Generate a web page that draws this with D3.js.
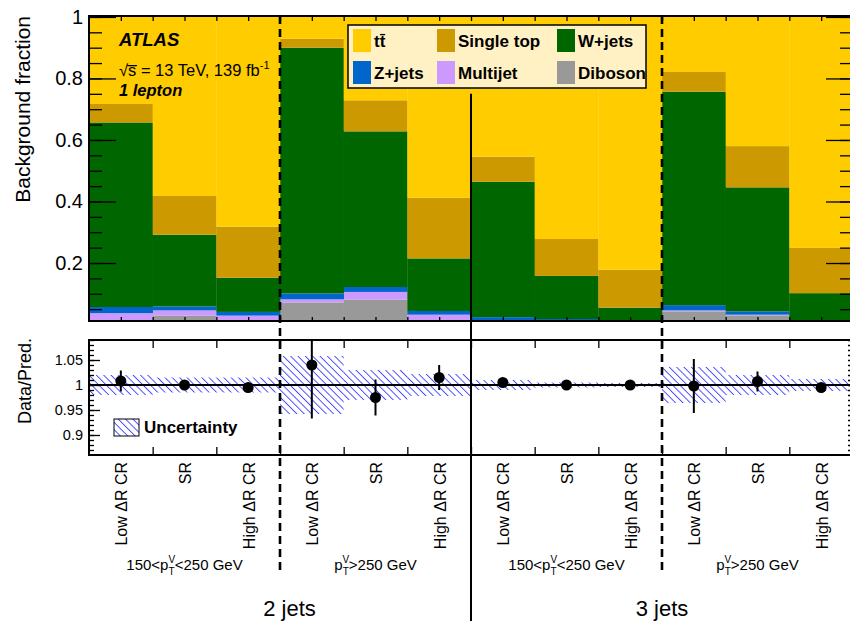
<!DOCTYPE html>
<html lang="en">
<head>
<meta charset="UTF-8">
<title>Background fraction</title>
<script src="https://cdn.jsdelivr.net/npm/d3@7"></script>
<style>
  body { margin: 0; background: #fff; }
  svg { display: block; font-family: "Liberation Sans", Arial, Helvetica, sans-serif; }
</style>
</head>
<body>
<svg width="850" height="621"></svg>
<script>
// category per bin (2 jets: 150-250, >250 ; 3 jets: 150-250, >250)
var categories = ["Low \u0394R CR", "SR", "High \u0394R CR", "Low \u0394R CR", "SR", "High \u0394R CR",
                  "Low \u0394R CR", "SR", "High \u0394R CR", "Low \u0394R CR", "SR", "High \u0394R CR"];
var ptRegions = ["150<p|<250 GeV", "p|>250 GeV", "150<p|<250 GeV", "p|>250 GeV"];
var jetLabels = ["2 jets", "3 jets"];

// background fractions, stacked bottom -> top
var diboson  = [0.008, 0.029, 0.008, 0.072, 0.081, 0.008, 0.006, 0.005, 0.004, 0.043, 0.030, 0.005];
var multijet = [0.029, 0.017, 0.021, 0.010, 0.025, 0.024, 0.004, 0.003, 0.003, 0.003, 0.002, 0.002];
var zjets    = [0.020, 0.013, 0.012, 0.019, 0.016, 0.012, 0.014, 0.010, 0.003, 0.017, 0.011, 0.004];
var wjets    = [0.600, 0.233, 0.111, 0.799, 0.506, 0.171, 0.440, 0.140, 0.045, 0.694, 0.403, 0.091];
var stop     = [0.060, 0.126, 0.166, 0.029, 0.101, 0.197, 0.082, 0.120, 0.123, 0.064, 0.134, 0.147];
var ttbar    = [0.283, 0.582, 0.682, 0.071, 0.271, 0.588, 0.454, 0.722, 0.822, 0.179, 0.420, 0.751];

// data / prediction
var ratio    = [1.008, 1.000, 0.995, 1.040, 0.975, 1.015, 1.005, 1.000, 1.000, 0.998, 1.007, 0.995];
var ratioErr = [0.021, 0.004, 0.004, 0.107, 0.036, 0.025, 0.005, 0.003, 0.003, 0.054, 0.020, 0.005];
var uncert   = [0.020, 0.015, 0.015, 0.058, 0.030, 0.022, 0.010, 0.005, 0.004, 0.036, 0.020, 0.012];

var keys = ["diboson", "multijet", "zjets", "wjets", "stop", "ttbar"];
var colors = { ttbar: "#ffcc00", stop: "#cc9900", wjets: "#006600", zjets: "#0066cc", multijet: "#cc99ff", diboson: "#999999" };
var legendItems = [
  { key: "ttbar", label: "tt\u0304" }, { key: "stop", label: "Single top" }, { key: "wjets", label: "W+jets" },
  { key: "zjets", label: "Z+jets" }, { key: "multijet", label: "Multijet" }, { key: "diboson", label: "Diboson" }
];

var L = 89, R = 853, T1 = 16, B1 = 321, T2 = 340, B2 = 455;

var svg = d3.select("svg");
var x = d3.scaleLinear().domain([0, 12]).range([L, R]);
var y = d3.scaleLinear().domain([0.0115, 1.003]).range([B1, T1]);
var yr = d3.scaleLinear().domain([0.86, 1.09]).range([B2, T2]);

var defs = svg.append("defs");
defs.append("clipPath").attr("id", "clipTop").append("rect")
  .attr("x", L).attr("y", T1).attr("width", R - L).attr("height", B1 - T1);
defs.append("clipPath").attr("id", "clipBot").append("rect")
  .attr("x", L).attr("y", T2).attr("width", R - L).attr("height", B2 - T2);
var hatch = defs.append("pattern").attr("id", "hatch").attr("patternUnits", "userSpaceOnUse")
  .attr("width", 5.2).attr("height", 5.2).attr("patternTransform", "rotate(-45)");
hatch.append("line").attr("x1", 0.5).attr("y1", 0).attr("x2", 0.5).attr("y2", 5.2)
  .attr("stroke", "#3333ff").attr("stroke-width", 0.85);

// ---- stacked fractions
var rows = categories.map(function (c, i) {
  return { i: i, diboson: diboson[i], multijet: multijet[i], zjets: zjets[i], wjets: wjets[i], stop: stop[i], ttbar: ttbar[i] };
});
var series = d3.stack().keys(keys)(rows);

var gBars = svg.append("g").attr("clip-path", "url(#clipTop)");
gBars.selectAll("g").data(series).enter().append("g")
  .attr("fill", d => colors[d.key])
  .selectAll("rect").data(d => d).enter().append("rect")
  .attr("x", d => x(d.data.i))
  .attr("width", d => x(d.data.i + 1) - x(d.data.i) + 0.3)
  .attr("y", d => y(d[1]))
  .attr("height", d => Math.max(0, y(d[0]) - y(d[1])));

// ---- ratio panel
var gRat = svg.append("g").attr("clip-path", "url(#clipBot)");
gRat.selectAll("rect.band").data(uncert).enter().append("rect")
  .attr("class", "band")
  .attr("x", (d, i) => x(i)).attr("width", (d, i) => x(i + 1) - x(i))
  .attr("y", d => yr(1 + d)).attr("height", d => yr(1 - d) - yr(1 + d))
  .attr("fill", "url(#hatch)");
gRat.append("line").attr("x1", L).attr("x2", R).attr("y1", yr(1)).attr("y2", yr(1))
  .attr("stroke", "#000").attr("stroke-width", 2);
gRat.selectAll("line.err").data(ratio).enter().append("line")
  .attr("class", "err")
  .attr("x1", (d, i) => x(i + 0.5)).attr("x2", (d, i) => x(i + 0.5))
  .attr("y1", (d, i) => yr(d + ratioErr[i])).attr("y2", (d, i) => yr(d - ratioErr[i]))
  .attr("stroke", "#000").attr("stroke-width", 2);
gRat.selectAll("circle").data(ratio).enter().append("circle")
  .attr("cx", (d, i) => x(i + 0.5)).attr("cy", d => yr(d)).attr("r", 5.5).attr("fill", "#000");

// ---- axes
function styleAxis(g) {
  g.select(".domain").remove();
  g.selectAll(".tick line").attr("stroke", "#000").attr("stroke-width", 1.3);
  g.selectAll("text").attr("fill", "#000").attr("font-family", "Liberation Sans, Arial, sans-serif");
}
var minorTop = d3.range(1, 21).map(v => v / 20);
var minorBot = d3.range(87, 110).map(v => v / 100);

svg.append("g").attr("transform", "translate(" + L + ",0)")
  .call(d3.axisLeft(y).tickValues(minorTop).tickSizeInner(-13).tickSizeOuter(0).tickFormat(""))
  .call(styleAxis);
svg.append("g").attr("transform", "translate(" + L + ",0)")
  .call(d3.axisLeft(y).tickValues([0.2, 0.4, 0.6, 0.8, 1]).tickSizeInner(-27).tickSizeOuter(0).tickPadding(6).tickFormat(d3.format("~g")))
  .call(styleAxis)
  .selectAll("text").attr("font-size", 20);
svg.append("g").attr("transform", "translate(" + R + ",0)")
  .call(d3.axisRight(y).tickValues(minorTop).tickSizeInner(-13).tickSizeOuter(0).tickFormat(""))
  .call(styleAxis);
svg.append("g").attr("transform", "translate(" + R + ",0)")
  .call(d3.axisRight(y).tickValues([0.2, 0.4, 0.6, 0.8, 1]).tickSizeInner(-27).tickSizeOuter(0).tickFormat(""))
  .call(styleAxis);
svg.append("g").attr("transform", "translate(0," + T1 + ")")
  .call(d3.axisTop(x).tickValues(d3.range(1, 24).map(v => v / 2)).tickSizeInner(-5).tickSizeOuter(0).tickFormat(""))
  .call(styleAxis);
svg.append("g").attr("transform", "translate(0," + B1 + ")")
  .call(d3.axisBottom(x).tickValues(d3.range(1, 24).map(v => v / 2)).tickSizeInner(-4).tickSizeOuter(0).tickFormat(""))
  .call(styleAxis);

svg.append("g").attr("transform", "translate(" + L + ",0)")
  .call(d3.axisLeft(yr).tickValues(minorBot).tickSizeInner(-5).tickSizeOuter(0).tickFormat(""))
  .call(styleAxis);
svg.append("g").attr("transform", "translate(" + L + ",0)")
  .call(d3.axisLeft(yr).tickValues([0.9, 0.95, 1, 1.05]).tickSizeInner(-11).tickSizeOuter(0).tickPadding(6).tickFormat(d3.format("~g")))
  .call(styleAxis)
  .selectAll("text").attr("font-size", 14.5);
svg.append("g").attr("transform", "translate(" + R + ",0)")
  .call(d3.axisRight(yr).tickValues(minorBot).tickSizeInner(-5).tickSizeOuter(0).tickFormat(""))
  .call(styleAxis);
svg.append("g").attr("transform", "translate(0," + T2 + ")")
  .call(d3.axisTop(x).tickValues(d3.range(1, 12)).tickSizeInner(-8).tickSizeOuter(0).tickFormat(""))
  .call(styleAxis);
svg.append("g").attr("transform", "translate(0," + B2 + ")")
  .call(d3.axisBottom(x).tickValues(d3.range(1, 12)).tickSizeInner(-8).tickSizeOuter(0).tickFormat(""))
  .call(styleAxis);

// frames
[[T1, B1], [T2, B2]].forEach(function (p) {
  svg.append("rect").attr("x", L).attr("y", p[0]).attr("width", R - L).attr("height", p[1] - p[0])
    .attr("fill", "none").attr("stroke", "#000").attr("stroke-width", 2);
});

// axis titles
svg.append("text").attr("transform", "translate(30," + T1 + ") rotate(-90)")
  .attr("text-anchor", "end").attr("font-size", 21).text("Background fraction");
svg.append("text").attr("transform", "translate(31,338) rotate(-90)")
  .attr("text-anchor", "end").attr("font-size", 18).text("Data/Pred.");

// separators
[3, 9].forEach(function (b) {
  svg.append("line").attr("x1", x(b)).attr("x2", x(b)).attr("y1", T1).attr("y2", 572)
    .attr("stroke", "#000").attr("stroke-width", 2.6).attr("stroke-dasharray", "8,5");
});
svg.append("line").attr("x1", x(6)).attr("x2", x(6)).attr("y1", y(0.75)).attr("y2", 621)
  .attr("stroke", "#000").attr("stroke-width", 2);

// ATLAS label
var lab = svg.append("g").attr("transform", "translate(119,0)");
lab.append("text").attr("y", 46).attr("font-size", 18.5).attr("font-weight", "bold").attr("font-style", "italic").text("ATLAS");
var info = lab.append("text").attr("y", 76).attr("font-size", 16.5);
info.append("tspan").text("\u221As\u0305 = 13 TeV, 139 fb");
info.append("tspan").attr("dy", -7).attr("font-size", 11).text("-1");
lab.append("text").attr("y", 96).attr("font-size", 16.5).attr("font-weight", "bold").attr("font-style", "italic").text("1 lepton");

// legend
var lg = svg.append("g");
lg.append("rect").attr("x", 348).attr("y", 25).attr("width", 298).attr("height", 63)
  .attr("fill", "#fff1c4").attr("stroke", "#000").attr("stroke-width", 1.5);
var colX = [353, 437, 557];
legendItems.forEach(function (it, k) {
  var cx = colX[k % 3], ry = 29 + Math.floor(k / 3) * 32;
  lg.append("rect").attr("x", cx).attr("y", ry).attr("width", 18).attr("height", 23).attr("fill", colors[it.key]);
  lg.append("text").attr("x", cx + 21).attr("y", ry + 18).attr("font-size", 17).attr("font-weight", "bold").text(it.label);
});

// uncertainty legend
svg.append("rect").attr("x", 114).attr("y", 419).attr("width", 25).attr("height", 17)
  .attr("fill", "url(#hatch)").attr("stroke", "#000").attr("stroke-width", 1);
svg.append("text").attr("x", 144).attr("y", 433).attr("font-size", 17).attr("font-weight", "bold").text("Uncertainty");

// bin labels
svg.selectAll("text.cat").data(categories).enter().append("text")
  .attr("class", "cat")
  .attr("transform", (d, i) => "translate(" + (x(i + 0.5) + 6.5) + ",462) rotate(-90)")
  .attr("text-anchor", "end").attr("font-size", 16).text(d => d);

// pT region labels
ptRegions.forEach(function (s, k) {
  var parts = s.split("|");
  var t = svg.append("text").attr("x", x(k * 3 + 1.5)).attr("y", 570).attr("text-anchor", "middle").attr("font-size", 15);
  t.append("tspan").text(parts[0]);
  t.append("tspan").attr("dy", -7).attr("font-size", 10).text("V");
  t.append("tspan").attr("dx", -6.5).attr("dy", 12).attr("font-size", 10).text("T");
  t.append("tspan").attr("dy", -5).text(parts[1]);
});

// jet multiplicity labels
jetLabels.forEach(function (s, k) {
  svg.append("text").attr("x", x(k === 0 ? 3.15 : 9)).attr("y", 616).attr("text-anchor", "middle")
    .attr("font-size", 22).text(s);
});
</script>
</body>
</html>
